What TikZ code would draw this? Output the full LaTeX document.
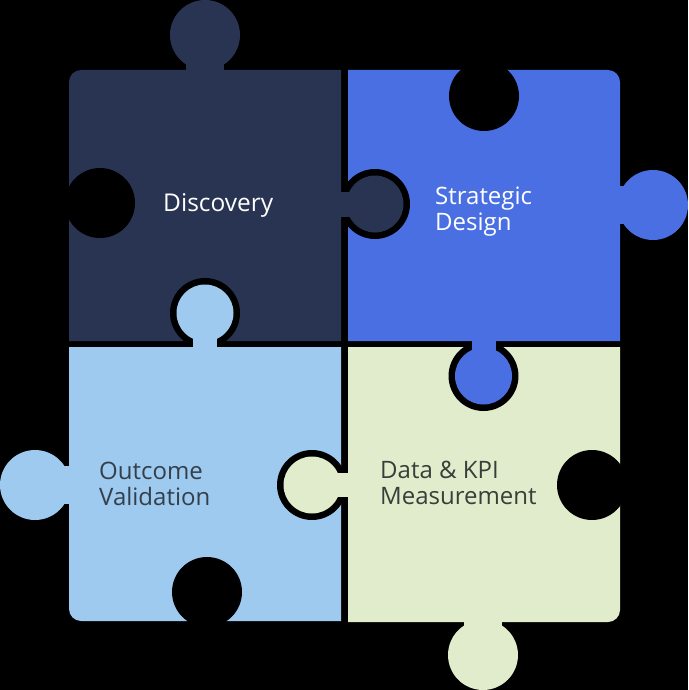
\documentclass[tikz,border=0pt]{standalone}
\usepackage{fontspec}
\setmainfont{Open Sans}
\definecolor{navy}{HTML}{283452}
\definecolor{royal}{HTML}{4A6FE3}
\definecolor{sky}{HTML}{9DCAEE}
\definecolor{sage}{HTML}{E0ECCB}
\definecolor{slate}{HTML}{33404C}
\definecolor{olive}{HTML}{393E3A}
\tikzset{
  label/.style={anchor=base west, inner sep=0pt, align=left, font=\fontsize{24}{25.5}\selectfont},
  hole/.style={fill=black},
}
\begin{document}
\begin{tikzpicture}[x=1pt,y=-1pt]
\useasboundingbox (0,0) rectangle (688,690);
\fill[black] (0,0) rectangle (688,690);
% ---- Discovery (navy) ----
\fill[navy] (341,341) -- (69,341) -- (69,82) .. controls (69,75.4) and (74.4,70) .. (81,70) -- (341,70) -- cycle;
\fill[navy] (205,35) circle[radius=35];
\fill[navy] (186,52) rectangle (224,72);
% ---- Strategic Design (blue) ----
\fill[royal] (348,341) -- (348,70) -- (608,70) .. controls (614.6,70) and (620,75.4) .. (620,82) -- (620,341) -- cycle;
\fill[royal] (653,205) circle[radius=35];
\fill[royal] (612,186) rectangle (632,224);
% ---- Outcome Validation (light blue) ----
\fill[sky] (69,347) -- (341,347) -- (341,621) -- (81,621) .. controls (74.4,621) and (69,615.6) .. (69,609) -- cycle;
\fill[sky] (35,485) circle[radius=35];
\fill[sky] (58,466) rectangle (75,504);
% ---- Data & KPI Measurement (light green) ----
\fill[sage] (348,347) -- (620,347) -- (620,610) .. controls (620,616.6) and (614.6,622) .. (608,622) -- (348,622) -- cycle;
\fill[sage] (483,655) circle[radius=35];
\fill[sage] (464,612) rectangle (502,634);
% ---- holes ----
\fill[hole] (100,203) circle[radius=35];
\fill[hole] (484,96) circle[radius=35];
\fill[hole] (207,592) circle[radius=35];
\fill[hole] (592,485) circle[radius=35];
% ---- interlocking knobs ----
\fill[black] (375,204) circle[radius=35];
\fill[navy] (375,204) circle[radius=28.5];
\fill[navy] (335,192) rectangle (362,216.5);
\fill[black] (483.5,376) circle[radius=35];
\fill[royal] (483.5,376) circle[radius=28.5];
\fill[royal] (471.5,335) rectangle (495.5,362);
\fill[black] (205,313) circle[radius=35];
\fill[sky] (205,313) circle[radius=28.5];
\fill[sky] (193,325) rectangle (217,353);
\fill[black] (312,485) circle[radius=35];
\fill[sage] (312,485) circle[radius=28.5];
\fill[sage] (325,473) rectangle (354,497);
% ---- labels ----
\node[label, text=white, font=\fontsize{24.5}{25.5}\selectfont] (disc) at (163,211) {Discovery};
\node[label, text=white] (strat) at (435,230) {Strategic\\Design};
\node[label, text=slate] (outc) at (99,505) {Outcome\\Validation};
\node[label, text=olive] (data) at (380,504) {Data \& KPI\\Measurement};
\end{tikzpicture}
\end{document}
